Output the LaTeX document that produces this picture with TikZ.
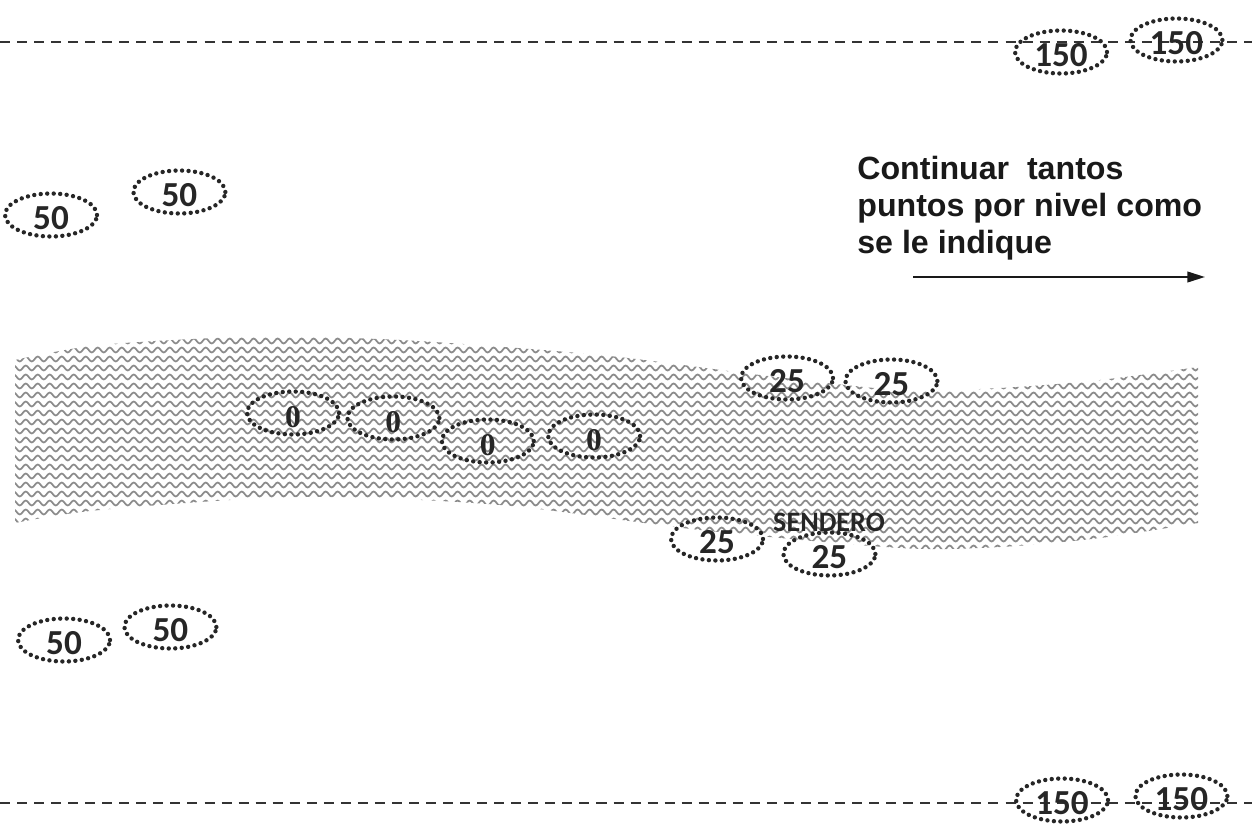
\documentclass[tikz,border=0pt]{standalone}
\usepackage{fontspec}
\setmainfont{Liberation Sans}
\newfontfamily\calibrifont{Carlito}
\newfontfamily\romanfont{Liberation Serif}
\usetikzlibrary{arrows.meta,positioning,shapes.geometric,decorations.pathmorphing}
\tikzset{
    %Define standard arrow tip
    >={Triangle[length=10pt,width=6pt]},
    %Define style for the dotted rings
    anillo/.style={
           ellipse,
           draw=black!85,
           line width=2.5pt,
           dash pattern=on 0pt off 3.7pt,
           line cap=round,
           minimum width=1.84cm,
           minimum height=0.86cm,
           inner sep=0pt,
           text height=17pt,
           text depth=0pt,
           text=black!85,
           font=\calibrifont\bfseries\fontsize{20}{22}\selectfont},
    %Define style for the rings on the path
    cero/.style={
           anillo,
           font=\romanfont\bfseries\fontsize{18}{20}\selectfont},
    % Define style for the level lines
    nivel/.style={
           line width=1.2pt,
           draw=black!80,
           dash pattern=on 5.7pt off 4pt},
    % Define style for the wavy fill
    rayas/.style={
           draw=black!45,
           line width=1pt,
           decorate,
           decoration={snake, segment length=0.24cm, amplitude=0.05cm}},
    % Define arrow style
    flecha/.style={
           ->,
           line width=1.2pt,
           draw=black!90}
}
\begin{document}
\begin{tikzpicture}[x=0.02cm, y=-0.02cm]
  \useasboundingbox (0,0) rectangle (1252,838);
  % path band
  \begin{scope}
    \clip plot[smooth] coordinates {(15,360) (100,345) (250,337) (400,340) (600,355) (760,375) (900,390) (1000,388) (1100,380) (1198,367)}
      -- plot[smooth] coordinates {(1198,523) (1100,538) (1000,547) (900,548) (700,530) (500,505) (300,497) (100,510) (15,523)} -- cycle;
    \foreach \y in {332,341,...,560}
      \draw[rayas] (10,\y) -- (1205,\y);
  \end{scope}
  % level lines
  \coordinate (arribaL) at (0,42);
  \coordinate (arribaR) at (1252,42);
  \coordinate (abajoL) at (0,803);
  \coordinate (abajoR) at (1252,803);
  \draw[nivel] (arribaL) -- (arribaR);
  \draw[nivel] (abajoL) -- (abajoR);
  % rings
  \node[anillo] (top150a) at (1061,52) {150};
  \node[anillo,right=0.38cm of top150a,yshift=0.24cm] (top150b) {150};
  \node[anillo] (low150a) at (1062,800) {150};
  \node[anillo,right=0.46cm of low150a,yshift=0.08cm] (low150b) {150};
  \node[anillo] (up50a) at (51,215) {50};
  \node[anillo,right=0.64cm of up50a,yshift=0.46cm] (up50b) {50};
  \node[anillo] (down50a) at (64,640) {50};
  \node[anillo,right=0.2cm of down50a,yshift=0.26cm] (down50b) {50};
  \node[cero] (zero1) at (293,413) {0};
  \node[cero,right=0.08cm of zero1,yshift=-0.1cm] (zero2) {0};
  \node[cero,right=-0.04cm of zero2,yshift=-0.46cm] (zero3) {0};
  \node[cero,right=0.2cm of zero3,yshift=0.1cm] (zero4) {0};
  \node[anillo] (above25a) at (787,378) {25};
  \node[anillo,right=0.16cm of above25a,yshift=-0.06cm] (above25b) {25};
  \node[anillo] (below25a) at (717,539) {25};
  \node[anillo,right=0.32cm of below25a,yshift=-0.3cm] (below25b) {25};
  \node[text=black!85,font=\calibrifont\bfseries\fontsize{16}{18}\selectfont] (sendero) at (829,522) {SENDERO};
  % note and arrow
  \node[anchor=north west,inner sep=0pt,align=left,text=black!90,
        font=\bfseries\fontsize{18.3}{21}\selectfont] (nota) at (857,156)
        {Continuar\ \ tantos\\puntos por nivel como\\se le indique};
  \coordinate (flechaA) at (913,277);
  \coordinate (flechaB) at (1205,277);
  \draw[flecha] (flechaA) -- (flechaB);
\end{tikzpicture}
\end{document}
